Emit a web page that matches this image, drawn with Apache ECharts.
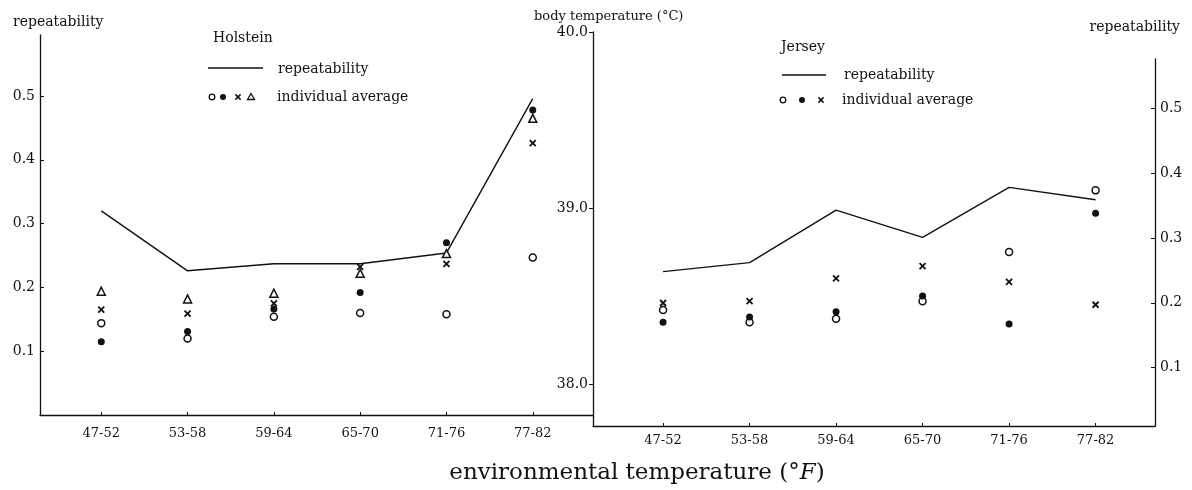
<!DOCTYPE html>
<html>
<head>
<meta charset="utf-8">
<script src="https://cdn.jsdelivr.net/npm/echarts@6/dist/echarts.min.js"></script>
<style>
  html, body { margin: 0; padding: 0; background: #fff; }
  #chart { width: 1192px; height: 490px; }
</style>
</head>
<body>
<div id="chart"></div>
<script>
const categories = ["47-52", "53-58", "59-64", "65-70", "71-76", "77-82"];

// Holstein (left panel, repeatability scale)
const holsteinRepeat = [0.32, 0.226, 0.237, 0.237, 0.254, 0.496];
const holsteinOpen = [0.144, 0.120, 0.154, 0.160, 0.158, 0.247];
const holsteinFilled = [0.115, 0.131, 0.166, 0.192, 0.270, 0.478];
const holsteinCross = [0.165, 0.159, 0.175, 0.232, 0.237, 0.426];
const holsteinTriangle = [0.194, 0.182, 0.191, 0.222, 0.253, 0.465];

// Jersey (right panel): line on repeatability axis, points on body temperature axis
const jerseyRepeat = [0.248, 0.262, 0.343, 0.301, 0.378, 0.359];
const jerseyOpen = [38.42, 38.35, 38.37, 38.47, 38.75, 39.10];
const jerseyFilled = [38.35, 38.38, 38.41, 38.50, 38.34, 38.97];
const jerseyCross = [38.46, 38.47, 38.60, 38.67, 38.58, 38.45];

const repTicks = [0.1, 0.2, 0.3, 0.4, 0.5];
const tempTicks = [38.0, 39.0, 40.0];

const offL = 0.71;
const offR = 0.81;
const FONT = "DejaVu Serif";
const INK = "#111";

const crossPath = "path://M0,0L10,10M10,0L0,10";

function pts(values, off) {
  return values.map((v, i) => [i + off, v]);
}

function catAxis(gridIndex, off, max, margin, show) {
  const pos = categories.map((c, i) => i + off);
  return {
    type: "value",
    gridIndex,
    show: show !== false,
    min: 0,
    max,
    splitLine: { show: false },
    axisLine: { onZero: false, lineStyle: { color: INK, width: 1.3 } },
    axisTick: { inside: true, length: 3, customValues: pos, lineStyle: { color: INK } },
    axisLabel: {
      customValues: pos,
      margin,
      color: INK,
      fontFamily: FONT,
      fontSize: 13,
      formatter: (v) => categories[Math.round(v - off)]
    }
  };
}

function valAxis(gridIndex, min, max, ticks, position, inside) {
  return {
    type: "value",
    gridIndex,
    min,
    max,
    position,
    splitLine: { show: false },
    axisLine: { show: true, onZero: false, lineStyle: { color: INK, width: 1.3 } },
    axisTick: { show: true, inside, length: 4, customValues: ticks, lineStyle: { color: INK } },
    axisLabel: {
      customValues: ticks,
      margin: 5,
      color: INK,
      fontFamily: FONT,
      fontSize: 14,
      formatter: (v) => v.toFixed(1)
    }
  };
}

function scatter(name, data, xi, yi, kind) {
  const s = { type: "scatter", name, data, xAxisIndex: xi, yAxisIndex: yi, z: 3 };
  if (kind === "open") {
    s.symbol = "circle"; s.symbolSize = 7;
    s.itemStyle = { color: "#fff", borderColor: INK, borderWidth: 1.5, opacity: 1 };
  } else if (kind === "filled") {
    s.symbol = "circle"; s.symbolSize = 7;
    s.itemStyle = { color: INK, opacity: 1 };
  } else if (kind === "cross") {
    s.symbol = crossPath; s.symbolSize = 6;
    s.itemStyle = { color: "transparent", borderColor: INK, borderWidth: 1.8, opacity: 1 };
  } else {
    s.symbol = "triangle"; s.symbolSize = 8;
    s.itemStyle = { color: "#fff", borderColor: INK, borderWidth: 1.5, opacity: 1 };
  }
  return s;
}

function text(str, x, y, size, align) {
  return {
    type: "text", x, y,
    style: { text: str, font: size + "px '" + FONT + "'", fill: INK, align: align || "left", verticalAlign: "middle" }
  };
}

function marker(kind, cx, cy) {
  if (kind === "open") {
    return { type: "circle", shape: { cx, cy, r: 2.8 }, style: { fill: "#fff", stroke: INK, lineWidth: 1.3 } };
  }
  if (kind === "filled") {
    return { type: "circle", shape: { cx, cy, r: 3 }, style: { fill: INK } };
  }
  if (kind === "cross") {
    return {
      type: "group",
      children: [
        { type: "line", shape: { x1: cx - 2.6, y1: cy - 2.6, x2: cx + 2.6, y2: cy + 2.6 }, style: { stroke: INK, lineWidth: 1.5 } },
        { type: "line", shape: { x1: cx + 2.6, y1: cy - 2.6, x2: cx - 2.6, y2: cy + 2.6 }, style: { stroke: INK, lineWidth: 1.5 } }
      ]
    };
  }
  return { type: "polygon", shape: { points: [[cx, cy - 3.5], [cx + 3.5, cy + 2.5], [cx - 3.5, cy + 2.5]] }, style: { fill: "#fff", stroke: INK, lineWidth: 1.3 } };
}

const chart = echarts.init(document.getElementById("chart"));

chart.setOption({
  animation: false,
  backgroundColor: "#fff",
  textStyle: { fontFamily: FONT, color: INK },
  grid: [
    { left: 40, top: 35, width: 553, height: 380 },
    { left: 593, top: 32, width: 562, height: 394 },
    { left: 593, top: 59, width: 562, height: 367 }
  ],
  xAxis: [
    catAxis(0, offL, 6.408, 12),
    catAxis(1, offR, 6.497, 8),
    catAxis(2, offR, 6.497, 8, false)
  ],
  yAxis: [
    valAxis(0, 0, 0.5956, repTicks, "left", true),
    valAxis(1, 37.761, 40, tempTicks, "left", false),
    valAxis(2, 0.010, 0.576, repTicks, "right", true)
  ],
  series: [
    {
      type: "line", name: "Holstein repeatability", data: pts(holsteinRepeat, offL),
      xAxisIndex: 0, yAxisIndex: 0, symbol: "none",
      lineStyle: { color: INK, width: 1.4 }
    },
    scatter("Holstein open", pts(holsteinOpen, offL), 0, 0, "open"),
    scatter("Holstein filled", pts(holsteinFilled, offL), 0, 0, "filled"),
    scatter("Holstein cross", pts(holsteinCross, offL), 0, 0, "cross"),
    scatter("Holstein triangle", pts(holsteinTriangle, offL), 0, 0, "triangle"),
    {
      type: "line", name: "Jersey repeatability", data: pts(jerseyRepeat, offR),
      xAxisIndex: 2, yAxisIndex: 2, symbol: "none",
      lineStyle: { color: INK, width: 1.4 }
    },
    scatter("Jersey open", pts(jerseyOpen, offR), 1, 1, "open"),
    scatter("Jersey filled", pts(jerseyFilled, offR), 1, 1, "filled"),
    scatter("Jersey cross", pts(jerseyCross, offR), 1, 1, "cross")
  ],
  graphic: [
    text("repeatability", 13, 22, 14),
    text("Holstein", 213, 38, 14),
    { type: "line", shape: { x1: 208, y1: 68, x2: 263, y2: 68 }, style: { stroke: INK, lineWidth: 1.3 } },
    text("repeatability", 278, 69, 14),
    marker("open", 212, 97),
    marker("filled", 223, 97),
    marker("cross", 238, 97),
    marker("triangle", 251, 97),
    text("individual average", 277, 97, 14),

    text("body temperature (°C)", 534, 17, 13),
    text("Jersey", 781, 47, 14),
    { type: "line", shape: { x1: 782, y1: 75, x2: 826, y2: 75 }, style: { stroke: INK, lineWidth: 1.3 } },
    text("repeatability", 844, 75, 14),
    marker("open", 783, 100),
    marker("filled", 802, 100),
    marker("cross", 821, 100),
    text("individual average", 842, 100, 14),
    text("repeatability", 1180, 27, 14, "right"),

    {
      type: "text", x: 637, y: 473,
      style: {
        text: "{a|environmental temperature (°}{b|F}{a|)}",
        align: "center", verticalAlign: "middle",
        rich: {
          a: { fontFamily: FONT, fontSize: 23, fill: INK, color: INK },
          b: { fontFamily: FONT, fontSize: 23, fontStyle: "italic", fill: INK, color: INK }
        }
      }
    }
  ]
});
</script>
</body>
</html>
